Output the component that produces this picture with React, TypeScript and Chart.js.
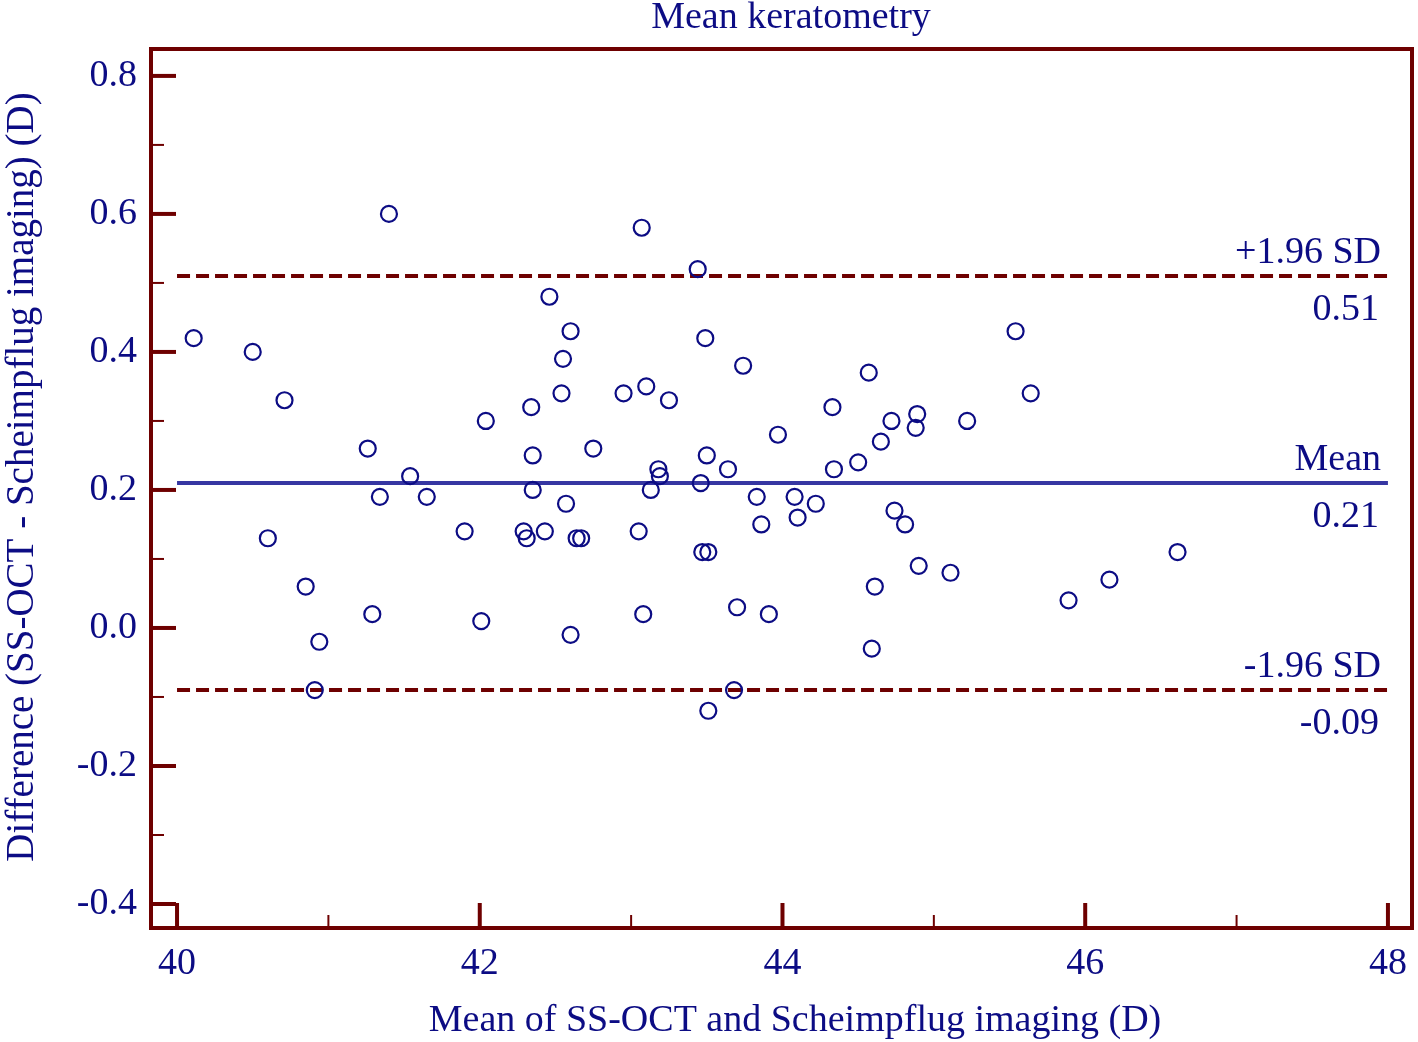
import { useEffect, useRef } from "react";
import { Chart, registerables } from "chart.js";
Chart.register(...registerables);

// Bland-Altman data: mean of the two methods (x) and their difference (y)
const meanX = [
  40.11, 40.5, 40.71, 40.6, 40.85, 40.91, 40.94, 41.29, 41.26, 41.34,
  41.4, 41.54, 41.65, 41.9, 42.01, 42.04, 42.29, 42.31, 42.34, 42.35,
  42.35, 42.43, 42.46, 42.54, 42.55, 42.57, 42.6, 42.6, 42.64, 42.67,
  42.75, 42.95, 43.05, 43.07, 43.08, 43.1, 43.13, 43.18, 43.19, 43.25,
  43.44, 43.46, 43.47, 43.49, 43.5, 43.51, 43.51, 43.64, 43.68, 43.7,
  43.74, 43.83, 43.86, 43.91, 43.97, 44.08, 44.1, 44.22, 44.33, 44.34,
  44.5, 44.57, 44.59, 44.61, 44.65, 44.72, 44.74, 44.81, 44.88, 44.89,
  44.9, 45.11, 45.22, 45.54, 45.64, 45.89, 46.16, 46.61,
];
const diffY = [
  0.42, 0.4, 0.33, 0.13, 0.06, -0.09, -0.02, 0.02, 0.26, 0.19,
  0.6, 0.22, 0.19, 0.14, 0.01, 0.3, 0.14, 0.13, 0.32, 0.25,
  0.2, 0.14, 0.48, 0.34, 0.39, 0.18, 0.43, -0.01, 0.13, 0.13,
  0.26, 0.34, 0.14, 0.58, 0.02, 0.35, 0.2, 0.23, 0.22, 0.33,
  0.52, 0.21, 0.11, 0.42, 0.25, 0.11, -0.12, 0.23, -0.09, 0.03,
  0.38, 0.19, 0.15, 0.02, 0.28, 0.19, 0.16, 0.18, 0.32, 0.23,
  0.24, 0.37, -0.03, 0.06, 0.27, 0.3, 0.17, 0.15, 0.29, 0.31,
  0.09, 0.08, 0.3, 0.43, 0.34, 0.04, 0.07, 0.11,
];

const xTicks = [40, 42, 44, 46, 48];
const xMinorTicks = [41, 43, 45, 47];
const yTicks = [-0.4, -0.2, 0, 0.2, 0.4, 0.6, 0.8];
const yMinorTicks = [-0.3, -0.1, 0.1, 0.3, 0.5, 0.7];

const meanDiff = 0.21;
const upperLoA = 0.51;
const lowerLoA = -0.09;
const lineRange = [40, 48];

const titleText = "Mean keratometry";
const xTitle = "Mean of SS-OCT and Scheimpflug imaging (D)";
const yTitle = "Difference (SS-OCT - Scheimpflug imaging) (D)";

const RED = "#6e0000";
const NAVY = "#0c0c84";
const MEANBLUE = "#3636a2";
const FONT = '"Liberation Serif", "Times New Roman", serif';

const framePlugin = {
  id: "frame",
  afterDraw(chart: any) {
    const { ctx, chartArea: a, scales } = chart;
    const x = scales.x;
    const y = scales.y;
    ctx.save();
    ctx.strokeStyle = RED;
    ctx.lineCap = "butt";
    ctx.lineWidth = 4;
    ctx.strokeRect(a.left, a.top, a.right - a.left, a.bottom - a.top);
    const tick = (isX: boolean, v: number, major: boolean) => {
      ctx.lineWidth = major ? 4 : 2;
      const len = major ? 25 : 13;
      ctx.beginPath();
      if (isX) {
        const px = x.getPixelForValue(v);
        ctx.moveTo(px, a.bottom);
        ctx.lineTo(px, a.bottom - len);
      } else {
        const py = y.getPixelForValue(v);
        ctx.moveTo(a.left, py);
        ctx.lineTo(a.left + len, py);
      }
      ctx.stroke();
    };
    xTicks.forEach((v) => tick(true, v, true));
    xMinorTicks.forEach((v) => tick(true, v, false));
    yTicks.forEach((v) => tick(false, v, true));
    yMinorTicks.forEach((v) => tick(false, v, false));

    ctx.fillStyle = NAVY;
    ctx.font = `38px ${FONT}`;
    ctx.textAlign = "center";
    ctx.textBaseline = "alphabetic";
    ctx.fillText(titleText, 791, 28);
    ctx.fillText(xTitle, 795, 1031);
    ctx.save();
    ctx.translate(33, 477);
    ctx.rotate(-Math.PI / 2);
    ctx.font = `39px ${FONT}`;
    ctx.fillText(yTitle, 0, 0);
    ctx.restore();

    ctx.textAlign = "right";
    const lbl = (v: number, top: string) => {
      const py = y.getPixelForValue(v);
      ctx.fillText(top, 1381, py - 13);
      ctx.fillText(v.toFixed(2), 1379, py + 44);
    };
    lbl(upperLoA, "+1.96 SD");
    lbl(meanDiff, "Mean");
    lbl(lowerLoA, "-1.96 SD");
    ctx.restore();
  },
};

export default function App() {
  const ref = useRef<HTMLCanvasElement>(null);
  useEffect(() => {
    if (!ref.current) return;
    const hLine = (v: number) => lineRange.map((xv) => ({ x: xv, y: v }));
    const chart = new Chart(ref.current, {
      type: "scatter",
      data: {
        datasets: [
          {
            data: meanX.map((xv, i) => ({ x: xv, y: diffY[i] })),
            pointRadius: 8,
            pointBorderWidth: 2.2,
            pointBorderColor: NAVY,
            pointBackgroundColor: "rgba(0,0,0,0)",
            showLine: false,
            order: 0,
          } as any,
          {
            type: "line",
            data: hLine(upperLoA),
            borderColor: RED,
            borderWidth: 4,
            borderDash: [13, 6],
            pointRadius: 0,
            order: 1,
          } as any,
          {
            type: "line",
            data: hLine(meanDiff),
            borderColor: MEANBLUE,
            borderWidth: 4,
            pointRadius: 0,
            order: 1,
          } as any,
          {
            type: "line",
            data: hLine(lowerLoA),
            borderColor: RED,
            borderWidth: 4,
            borderDash: [13, 6],
            pointRadius: 0,
            order: 1,
          } as any,
        ],
      },
      options: {
        responsive: false,
        animation: false,
        layout: { autoPadding: false, padding: { top: 49, right: 6, left: 0, bottom: 0 } },
        plugins: { legend: { display: false }, tooltip: { enabled: false } },
        scales: {
          x: {
            type: "linear",
            min: 39.828,
            max: 48.159,
            grid: { display: false, drawTicks: false },
            border: { display: false },
            afterBuildTicks: (s: any) => {
              s.ticks = xTicks.map((v) => ({ value: v }));
            },
            afterFit: (s: any) => {
              s.height = 114;
              s.paddingLeft = 0;
              s.paddingRight = 0;
            },
            ticks: {
              color: NAVY,
              font: { family: FONT, size: 38 },
              padding: 13,
              maxRotation: 0,
              autoSkip: false,
              callback: (v: any) => String(v),
            },
          },
          y: {
            type: "linear",
            min: -0.4348,
            max: 0.839,
            grid: { display: false, drawTicks: false },
            border: { display: false },
            afterBuildTicks: (s: any) => {
              s.ticks = yTicks.map((v) => ({ value: v }));
            },
            afterFit: (s: any) => {
              s.width = 151;
              s.paddingTop = 0;
              s.paddingBottom = 0;
            },
            ticks: {
              color: NAVY,
              font: { family: FONT, size: 38 },
              padding: 14,
              autoSkip: false,
              callback: (v: any) => Number(v).toFixed(1),
            },
          },
        },
      },
      plugins: [framePlugin],
    });
    return () => chart.destroy();
  }, []);
  return (
    <div style={{ position: "absolute", left: 0, top: 0, width: 1418, height: 1042, background: "#fff" }}>
      <canvas ref={ref} width={1418} height={1042} style={{ display: "block" }} />
    </div>
  );
}
